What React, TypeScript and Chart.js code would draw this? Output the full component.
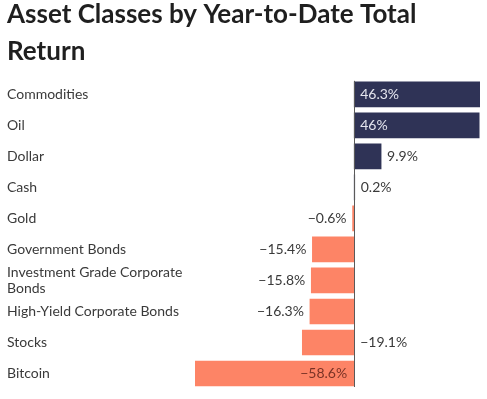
import React, { useEffect, useRef } from "react";
import { Chart, registerables } from "chart.js";

Chart.register(...registerables);

const titleLines = ["Asset Classes by Year-to-Date Total", "Return"];
const categories: (string | string[])[] = [
  "Commodities",
  "Oil",
  "Dollar",
  "Cash",
  "Gold",
  "Government Bonds",
  ["Investment Grade Corporate", "Bonds"],
  "High-Yield Corporate Bonds",
  "Stocks",
  "Bitcoin",
];
const returns = [46.3, 46, 9.9, 0.2, -0.6, -15.4, -15.8, -16.3, -19.1, -58.6];
const labelOppositeSide = ["Stocks"];

const POS = "#2f3356";
const NEG = "#fd8466";
const FONT = "Lato";

const fmt = (v: number) => (v < 0 ? "\u2212" : "") + Math.abs(v) + "%";

const labelPlugin = {
  id: "barLabels",
  afterDatasetsDraw(chart: any) {
    const ctx = chart.ctx;
    const meta = chart.getDatasetMeta(0);
    const xs = chart.scales.x;
    const zero = xs.getPixelForValue(0);
    const area = chart.chartArea;
    ctx.save();
    ctx.strokeStyle = "#5a5a5a";
    ctx.lineWidth = 1;
    ctx.beginPath();
    ctx.moveTo(Math.round(zero) + 0.5, area.top + 2);
    ctx.lineTo(Math.round(zero) + 0.5, area.bottom - 2);
    ctx.stroke();

    ctx.font = `14px ${FONT}`;
    ctx.textBaseline = "middle";
    meta.data.forEach((bar: any, i: number) => {
      const v = returns[i];
      const text = fmt(v);
      const tw = ctx.measureText(text).width;
      const len = Math.abs(bar.x - bar.base);
      const inside = len >= tw + 16;
      const name = Array.isArray(categories[i]) ? (categories[i] as string[]).join(" ") : (categories[i] as string);
      const y = bar.y;
      if (labelOppositeSide.includes(name)) {
        ctx.fillStyle = "#3a3a3a";
        ctx.textAlign = v < 0 ? "left" : "right";
        ctx.fillText(text, v < 0 ? bar.base + 6 : bar.base - 6, y);
      } else if (inside) {
        if (v >= 0) {
          ctx.fillStyle = "#e4e5ee";
          ctx.textAlign = "left";
          ctx.fillText(text, bar.base + 6, y);
        } else {
          ctx.fillStyle = "#7a3326";
          ctx.textAlign = "right";
          ctx.fillText(text, bar.base - 7, y);
        }
      } else {
        ctx.fillStyle = "#3a3a3a";
        if (v >= 0) {
          ctx.textAlign = "left";
          ctx.fillText(text, bar.x + 6, y);
        } else {
          ctx.textAlign = "right";
          ctx.fillText(text, bar.x - 6, y);
        }
      }
    });
    ctx.restore();
  },
};

export default function App() {
  const ref = useRef<HTMLCanvasElement>(null);
  useEffect(() => {
    document.body.style.margin = "0";
    const chart = new Chart(ref.current!, {
      type: "bar",
      data: {
        labels: categories,
        datasets: [
          {
            data: returns,
            backgroundColor: returns.map((v) => (v >= 0 ? POS : NEG)),
            barThickness: 25,
          },
        ],
      },
      options: {
        indexAxis: "y",
        animation: false,
        responsive: false,
        layout: { padding: { left: 7, right: 7, top: 0, bottom: 10 } },
        plugins: {
          legend: { display: false },
          tooltip: { enabled: false },
          title: {
            display: true,
            text: titleLines,
            align: "start",
            color: "#1f1f1f",
            font: { family: FONT, weight: "bold", size: 26, lineHeight: 1.42 },
            padding: { top: -4, bottom: 9 },
          },
        },
        scales: {
          x: {
            display: false,
            min: Math.min(...returns),
            max: Math.max(...returns),
          },
          y: {
            grid: { display: false },
            border: { display: false },
            ticks: {
              autoSkip: false,
              crossAlign: "far",
              color: "#3a3a3a",
              font: { family: FONT, size: 14 },
              padding: 0,
            },
            afterFit(scale: any) {
              scale.width = 188;
            },
          },
        },
      },
      plugins: [labelPlugin],
    });
    return () => chart.destroy();
  }, []);
  return (
    <div style={{ width: 487, height: 399 }}>
      <canvas ref={ref} width={487} height={399} />
    </div>
  );
}
